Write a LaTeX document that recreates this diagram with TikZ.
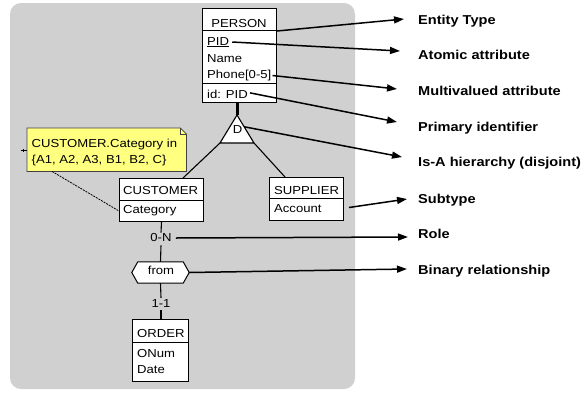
\documentclass[tikz,border=0pt]{standalone}
\usepackage{fontspec}
\setmainfont[FakeStretch=1.13]{Liberation Sans}
\usetikzlibrary{arrows.meta,calc}
\definecolor{bggray}{RGB}{208,208,208}
\definecolor{noteyellow}{RGB}{255,255,128}
\begin{document}
\begin{tikzpicture}[x=1pt,y=-1pt,
  box/.style={draw=black,fill=white,line width=1pt,inner sep=0pt,anchor=north west},
  txt/.style={font=\fontsize{11.6}{14}\selectfont,inner sep=0pt},
  lbl/.style={font=\fontsize{12.9}{15}\selectfont\bfseries,inner sep=0pt,anchor=base west},
  arr/.style={line width=1.5pt,-{Triangle[length=10pt,width=7pt]}},
  link/.style={line width=1.1pt}]
\useasboundingbox (0,0) rectangle (582,392);
% background panel
\fill[bggray,rounded corners=11pt] (10,3) rectangle (355,389);

% PERSON
\node[box,minimum width=74pt,minimum height=22pt] (personH) at (202,8) {};
\node[box,minimum width=74pt,minimum height=53pt] (personA) at (202,30) {};
\node[box,minimum width=74pt,minimum height=19pt] (personI) at (202,83) {};
\node[txt,anchor=base] (personT) at (239,27) {PERSON};
\node[txt,anchor=base west] (pid) at (207,45) {\underline{PID}};
\node[txt,anchor=base west] (pname) at (207,62) {Name};
\node[txt,anchor=base west] (phone) at (207,78.5) {Phone[0-5]};
\node[txt,anchor=base west] (pident) at (207,98) {id: PID};

% IS-A triangle
\coordinate (isaTop) at (237,115);
\coordinate (isaL) at (220,143);
\coordinate (isaR) at (254,143);
\draw[line width=3pt] (personI.south -| isaTop) -- (isaTop);
\draw[link,fill=white] (isaTop) -- (isaL) -- (isaR) -- cycle;
\node[txt,anchor=base] (isaD) at (237.5,133.5) {D};

% CUSTOMER
\node[box,minimum width=84pt,minimum height=22pt] (custH) at (119,178) {};
\node[box,minimum width=84pt,minimum height=21pt] (custA) at (119,200) {};
\node[txt,anchor=base west] (custT) at (123,194) {CUSTOMER};
\node[txt,anchor=base west] (custCat) at (123,213.5) {Category};

% SUPPLIER
\node[box,minimum width=74pt,minimum height=21pt] (suppH) at (269,177) {};
\node[box,minimum width=74pt,minimum height=22pt] (suppA) at (269,198) {};
\node[txt,anchor=base west] (suppT) at (274,194) {SUPPLIER};
\node[txt,anchor=base west] (suppAcc) at (274,212.5) {Account};

\draw[link] (isaL) -- ($(custH.north west)+(64,0)$);
\draw[link] (isaR) -- ($(suppH.north west)+(16,0)$);

% note
\node[inner sep=0pt,anchor=north west,minimum width=159pt,minimum height=43pt] (note) at (27,128) {};
\draw[black!75,line width=0.8pt,fill=noteyellow]
  (note.north west) -- ($(note.north east)+(-6,0)$) -- ($(note.north east)+(0,6)$)
  -- (note.south east) -- (note.south west) -- cycle;
\draw[black!75,line width=0.6pt] ($(note.north east)+(-6,0)$) -- ($(note.north east)+(-6,6)$) -- ($(note.north east)+(0,6)$);
\node[txt,anchor=base west] (noteL1) at (31.5,147.5) {CUSTOMER.Category in};
\node[txt,anchor=base west] (noteL2) at (31.5,163.5) {\{A1, A2, A3, B1, B2, C\}};
\draw[black,line width=0.8pt,dash pattern=on 2pt off 1pt] ($(note.south west)+(25,0)$) -- (custA.west);
\coordinate (stubA) at (21,150);
\draw[black,line width=0.8pt] (stubA) -- (note.west |- stubA);
\draw[black,line width=0.8pt] ($(stubA)+(2,-1)$) -- ($(stubA)+(2,2)$);

% role labels and relationship
\node[txt] (card1) at (161,238) {0-N};
\node[minimum width=57pt,minimum height=21pt,inner sep=0pt] (rel) at (160.5,272.5) {};
\node[txt] (card2) at (161,304) {1-1};
\node[box,minimum width=56pt,minimum height=23pt] (ordH) at (132,319) {};
\node[box,minimum width=56pt,minimum height=39pt] (ordA) at (132,342) {};
\node[txt,anchor=base west] (ordT) at (137,337) {ORDER};
\node[txt,anchor=base west] (ordN) at (137,357) {ONum};
\node[txt,anchor=base west] (ordD) at (137,373) {Date};

\draw[link] (custA.south) -- ($(card1.north)+(0,-1)$);
\draw[link] ($(card1.south)+(0,3)$) -- (rel.north);
\draw[link] (rel.south) -- ($(card2.north)+(0,-2)$);
\draw[link] ($(card2.south)+(0,2)$) -- (ordH.north -| card2.south);
\draw[line width=1pt,fill=white] (rel.west) -- ($(rel.north west)+(6,0)$) -- ($(rel.north east)+(-6,0)$)
  -- (rel.east) -- ($(rel.south east)+(-6,0)$) -- ($(rel.south west)+(6,0)$) -- cycle;
\node[txt,anchor=base] (relT) at (161,274.5) {from};

% legend labels
\node[lbl] (lEntity) at (418,24) {Entity Type};
\node[lbl] (lAtomic) at (418,59) {Atomic attribute};
\node[lbl] (lMulti) at (418,95) {Multivalued attribute};
\node[lbl] (lPrim) at (418,131) {Primary identifier};
\node[lbl] (lIsa) at (418,166) {Is-A hierarchy (disjoint)};
\node[lbl] (lSub) at (418,203) {Subtype};
\node[lbl] (lRole) at (418,238) {Role};
\node[lbl] (lBin) at (418,274) {Binary relationship};

\coordinate (tEntity) at (404,19);
\coordinate (tAtomic) at (400,51);
\coordinate (tMulti) at (397,89);
\coordinate (tPrim) at (397,122);
\coordinate (tIsa) at (402,157);
\coordinate (tSub) at (407,199);
\coordinate (tRole) at (408,237);
\coordinate (tBin) at (407,269);

\draw[arr] (personH.south east) -- (tEntity);
\draw[arr] ($(pid.east)+(3,0)$) -- (tAtomic);
\draw[arr] ($(phone.east)+(1,0)$) -- (tMulti);
\draw[arr] ($(pident.east)+(2,-1)$) -- (tPrim);
\draw[arr] ($(isaTop)!0.42!(isaR)$) -- (tIsa);
\draw[arr] ($(suppA.east)+(5,-2)$) -- (tSub);
\draw[arr] ($(card1.east)+(4,0)$) -- (tRole);
\draw[arr] (rel.east) -- (tBin);
\end{tikzpicture}
\end{document}
